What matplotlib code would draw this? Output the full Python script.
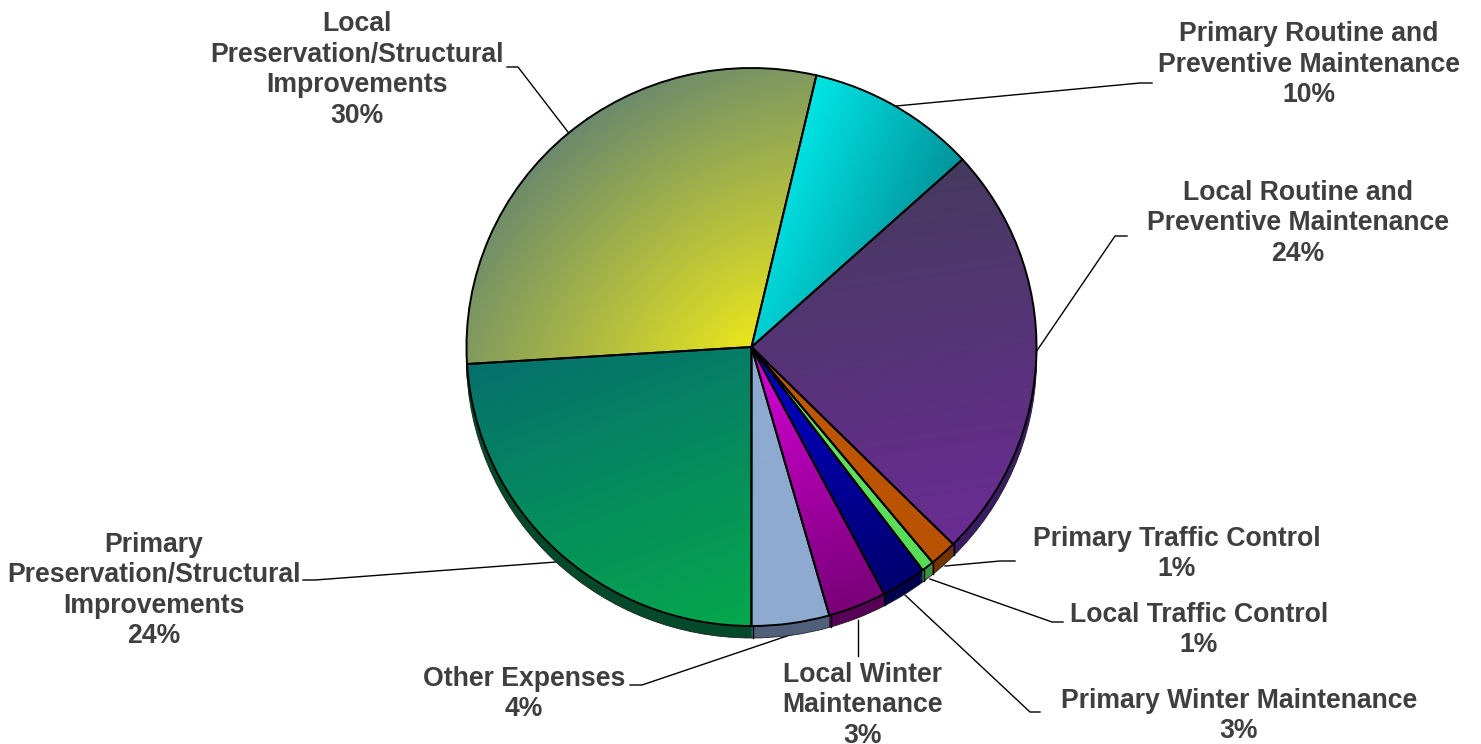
import matplotlib
matplotlib.use("Agg")
import matplotlib.pyplot as plt
from matplotlib.colors import to_rgb
import numpy as np

plt.rcParams['font.family'] = ['Liberation Sans', 'DejaVu Sans']

# --- Data, clockwise from the yellow slice ---
categories = ["Local\nPreservation/Structural\nImprovements",
              "Primary Routine and\nPreventive Maintenance",
              "Local Routine and\nPreventive Maintenance",
              "Primary Traffic Control",
              "Local Traffic Control",
              "Primary Winter Maintenance",
              "Local Winter\nMaintenance",
              "Other Expenses",
              "Primary\nPreservation/Structural\nImprovements"]
values = [29.6, 9.6, 24.2, 1.55, 0.7, 2.55, 3.3, 4.4, 24.0]
pct_labels = ["30%", "10%", "24%", "1%", "1%", "3%", "3%", "4%", "24%"]

# --- Slice styles: gradient start, gradient end, gradient direction, side colour ---
grad_from = ["#6b8a6c", "#00e6e6", "#453a5e", "#c25800", "#62e862", "#0000cc", "#d800d8", "#8eaad0", "#06706e"]
grad_to = ["#eae61c", "#00939a", "#6a2c94", "#b85200", "#58dc58", "#00006e", "#780078", "#8eaad0", "#05a84c"]
grad_dir = [(0.64, -0.77), (0.88, -0.35), (0.15, -1), (0, -1), (0, -1), (0.4, -0.9), (0.3, -0.95), (0, -1), (0.35, -0.95)]
# >0 makes the gradient fall off round the pie centre instead of straight across
grad_round = [0.7, 0, 0, 0, 0, 0, 0, 0, 0]
side_colors = ["#5a5a20", "#006a70", "#3a1c62", "#743400", "#3c9440", "#00004c", "#560056", "#50607a", "#034a2a"]

# --- Layout in pixels of the 1481x744 image ---
W, H = 1481, 744
CX, CY, RX, RY = 751.5, 347.0, 285.0, 279.0
DEPTH = 12
START = 90 - 266.5

label_pos = [(357, 70), (1309, 64.5), (1298, 223.5), (1177, 554), (1199, 630),
             (1239, 716), (863, 705.5), (524, 694), (154, 590.5)]
leaders = [[(507, 67), (518, 67), (568, 132)],
           [(1152, 83), (1140, 83), (896, 106)],
           [(1127, 236), (1115, 236), (1036, 352)],
           [(1015, 561), (1000, 561), (945, 566)],
           [(1063, 622), (1052, 622), (930, 579)],
           [(1040, 712), (1030, 712), (905, 595)],
           [(858, 656), (858, 620)],
           [(630, 685), (642, 685), (790, 635)],
           [(303, 580), (315, 580), (556, 562)]]


def px(x, y):
    return (x - CX) / RX, (CY - y) / RY


fig = plt.figure(figsize=(W / 100, H / 100), dpi=100)
ax = fig.add_axes([0, 0, 1, 1])

# --- Side of the 3D pie: stack of dark pies going up to the top face ---
for step in range(DEPTH, 0, -1):
    wedges, _ = ax.pie(values, colors=side_colors, startangle=START, counterclock=False,
                       center=(0, -step / RY), radius=1.0)
    for w in wedges:
        w.set_zorder(1)
        if step == DEPTH:
            w.set_edgecolor("#222222")
            w.set_linewidth(0.6)

# --- Black seams on the side ---
bounds = START - np.cumsum([0] + values) * 3.6
for a in bounds:
    x, y = np.cos(np.radians(a)), np.sin(np.radians(a))
    if y < -0.05:
        ax.plot([x, x], [y, y - DEPTH / RY], color="black", lw=1.0, zorder=1.5)

# --- Top face: gradient images clipped by each slice ---
top, _ = ax.pie(values, startangle=START, counterclock=False, radius=1.0)
grid = np.linspace(-1.02, 1.02, 500)
gx, gy = np.meshgrid(grid, grid)
for w, c0, c1, d, rnd in zip(top, grad_from, grad_to, grad_dir, grad_round):
    verts = w.get_patch_transform().transform(w.get_path().vertices)
    dx, dy = np.array(d) / np.hypot(*d)
    if rnd > 0:
        t = 1 - np.hypot(gx * dx + gy * dy, rnd * (gx * dy - gy * dx))
    else:
        proj = verts[:, 0] * dx + verts[:, 1] * dy
        t = (gx * dx + gy * dy - proj.min()) / (proj.max() - proj.min())
    t = np.clip(t, 0, 1)[..., None]
    rgb = np.array(to_rgb(c0)) * (1 - t) + np.array(to_rgb(c1)) * t
    im = ax.imshow(rgb, extent=(-1.02, 1.02, -1.02, 1.02), origin="lower", aspect="auto",
                   interpolation="bilinear", zorder=2)
    im.set_clip_path(w)
    w.set_facecolor("none")
    w.set_edgecolor("black")
    w.set_linewidth(1.4)
    w.set_zorder(3)

# --- Leader lines run behind the pie ---
for pts in leaders:
    xy = np.array([px(*p) for p in pts])
    ax.plot(xy[:, 0], xy[:, 1], color="black", lw=1.0, zorder=0.5)

# --- Labels ---
for name, pct, pos in zip(categories, pct_labels, label_pos):
    x, y = px(*pos)
    ax.text(x, y, name + "\n" + pct, ha="center", va="center", fontsize=19.2, fontweight="bold",
            color="#3f3f3f", linespacing=1.23, zorder=5)

ax.set_aspect("auto")
ax.set_xlim(px(0, 0)[0], px(W, 0)[0])
ax.set_ylim(px(0, H)[1], px(0, 0)[1])
ax.axis("off")

fig.savefig("out.png", dpi=100, facecolor="white")
